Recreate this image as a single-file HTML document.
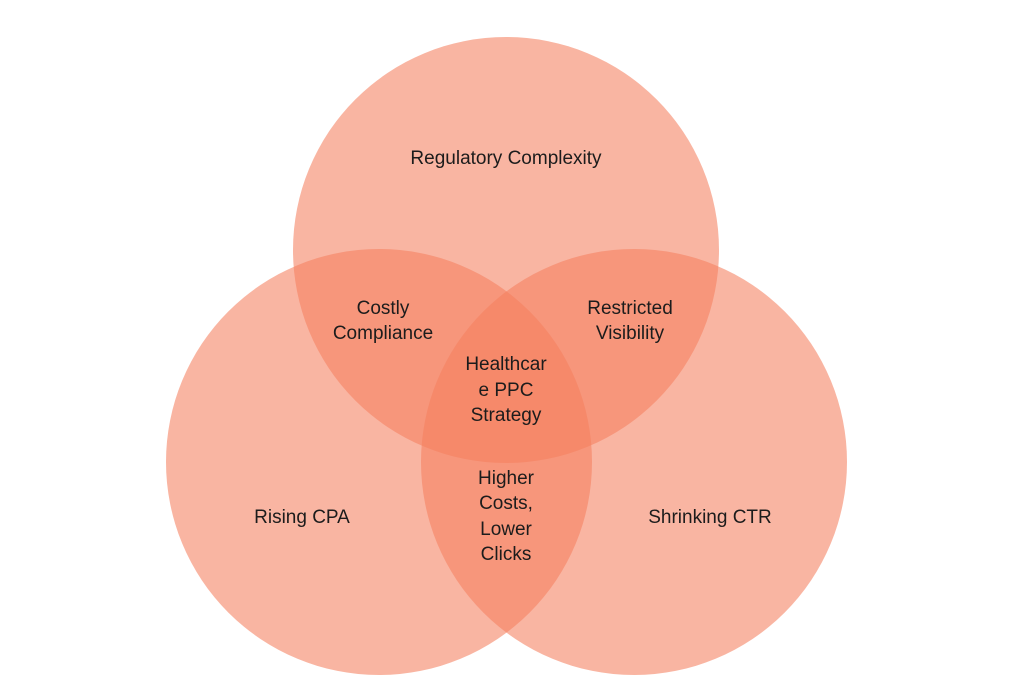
<!DOCTYPE html>
<html><head><meta charset="utf-8"><style>
html,body{margin:0;padding:0;background:#fff;}
svg{display:block;}
text{font-family:"Liberation Sans",sans-serif;font-size:19px;fill:#1c1c1c;text-anchor:middle;}
</style></head><body>
<svg width="1024" height="694" viewBox="0 0 1024 694">
<g fill="#F4805F" fill-opacity="0.58">
<circle cx="506" cy="250" r="213"/>
<circle cx="379" cy="462" r="213"/>
<circle cx="634" cy="462" r="213"/>
</g>
<text x="506" y="164">Regulatory Complexity</text>
<text x="383" y="314">Costly</text>
<text x="383" y="339">Compliance</text>
<text x="630" y="314">Restricted</text>
<text x="630" y="339">Visibility</text>
<text x="506" y="370">Healthcar</text>
<text x="506" y="396">e PPC</text>
<text x="506" y="421">Strategy</text>
<text x="506" y="484">Higher</text>
<text x="506" y="509">Costs,</text>
<text x="506" y="535">Lower</text>
<text x="506" y="560">Clicks</text>
<text x="302" y="523">Rising CPA</text>
<text x="710" y="523">Shrinking CTR</text>
</svg>
</body></html>
